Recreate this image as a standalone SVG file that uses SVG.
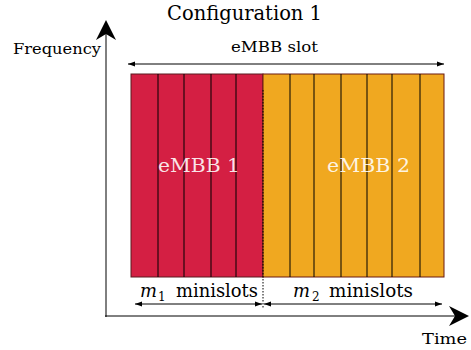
<svg xmlns="http://www.w3.org/2000/svg" width="471" height="350" viewBox="0 0 471 350">
<defs>
<style>
.t{font-family:"DejaVu Serif","Liberation Serif",serif;fill:#000}
.ln{stroke:#000;stroke-width:1;fill:none}
.w{fill:#fff;fill-opacity:0.88}
</style>
<marker id="sa" viewBox="0 0 10 10" refX="10" refY="5" markerWidth="7" markerHeight="7" orient="auto-start-reverse" markerUnits="userSpaceOnUse"><path d="M0,1.5 L10,5 L0,8.5 Z" fill="#000"/></marker>
<marker id="big" viewBox="0 0 10 10" refX="9" refY="5" markerWidth="20" markerHeight="20" orient="auto" markerUnits="userSpaceOnUse"><path d="M0,0 L10,5 L0,10 L3,5 Z" fill="#000"/></marker>
</defs>
<g id="title"><text class="t" x="167" y="20" font-size="20" textLength="155" lengthAdjust="spacingAndGlyphs">Configuration 1</text></g>
<g id="axes">
<line class="ln" x1="106" y1="317" x2="106" y2="22" stroke-width="1.5" marker-end="url(#big)"/>
<line class="ln" x1="105" y1="316" x2="467" y2="316" stroke-width="1.5" marker-end="url(#big)"/>
<text class="t" x="13" y="54" font-size="15" textLength="88" lengthAdjust="spacingAndGlyphs">Frequency</text>
<text class="t" x="422" y="344" font-size="15" textLength="45" lengthAdjust="spacingAndGlyphs">Time</text>
</g>
<g id="embb1">
<rect x="131" y="74" width="132" height="203" fill="#D41F43" stroke="#5a1a20" stroke-width="1"/>
<path class="ln" d="M158,74V277M184,74V277M211,74V277M236,74V277"/>
<text class="t w" x="158" y="172" font-size="19" textLength="82" lengthAdjust="spacingAndGlyphs">eMBB 1</text>
</g>
<g id="embb2">
<rect x="263" y="74" width="181" height="203" fill="#F0A820" stroke="#6b1a10" stroke-width="1"/>
<path class="ln" d="M290,74V277M314,74V277M341,74V277M367,74V277M392,74V277M420,74V277"/>
<text class="t w" x="327" y="172" font-size="19" textLength="83" lengthAdjust="spacingAndGlyphs">eMBB 2</text>
</g>
<g id="connectors">
<line class="ln" x1="128" y1="64" x2="444" y2="64" marker-start="url(#sa)" marker-end="url(#sa)"/>
<text class="t" x="231" y="52" font-size="15" textLength="87" lengthAdjust="spacingAndGlyphs">eMBB slot</text>
<line class="ln" x1="263" y1="90" x2="263" y2="309" stroke-dasharray="1.5,1.5"/>
<line class="ln" x1="135" y1="304" x2="262" y2="304" marker-start="url(#sa)" marker-end="url(#sa)"/>
<line class="ln" x1="264" y1="304" x2="442" y2="304" marker-start="url(#sa)" marker-end="url(#sa)"/>
<text class="t" x="140" y="297" font-size="18" font-style="italic" textLength="17" lengthAdjust="spacingAndGlyphs">m</text>
<text class="t" x="158" y="301" font-size="12">1</text>
<text class="t" x="176" y="297" font-size="18" textLength="82" lengthAdjust="spacingAndGlyphs">minislots</text>
<text class="t" x="293" y="297" font-size="18" font-style="italic" textLength="17" lengthAdjust="spacingAndGlyphs">m</text>
<text class="t" x="312" y="301" font-size="12">2</text>
<text class="t" x="329" y="297" font-size="18" textLength="84" lengthAdjust="spacingAndGlyphs">minislots</text>
</g>
</svg>
